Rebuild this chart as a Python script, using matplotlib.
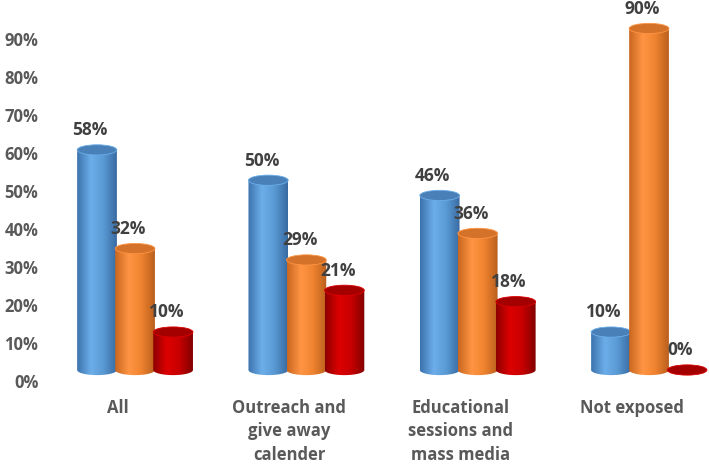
import numpy as np
import matplotlib.pyplot as plt
from matplotlib.colors import LinearSegmentedColormap
from matplotlib.patches import Ellipse, PathPatch
from matplotlib.path import Path

categories = ["All", "Outreach and\ngive away\ncalender",
              "Educational\nsessions and\nmass media", "Not exposed"]
series_a = [58, 50, 46, 10]   # blue
series_b = [32, 29, 36, 90]   # orange
series_c = [10, 21, 18, 0]    # red
yticks = [0, 10, 20, 30, 40, 50, 60, 70, 80, 90]

# body gradient stops (edge, highlight, mid, edge) and top-cap colour
styles = [
    (["#3B72AD", "#6CAEEA", "#5B9BD5", "#396BA2"], "#4A80B8"),
    (["#C9661F", "#FF9544", "#F08430", "#B95F1E"], "#D5722A"),
    (["#8E0000", "#DD0000", "#C80000", "#820000"], "#A40000"),
]

TXT = "#595959"
VAL = "#404040"
plt.rcParams["font.family"] = ["Open Sans", "DejaVu Sans"]

fig = plt.figure(figsize=(7.09, 4.66), dpi=100)
ax = fig.add_axes([0.06, 0.1824, 0.94, 0.8176])
ax.set_xlim(-0.44, 3.45)
ax.set_ylim(0, 100.4)

bw = 0.232        # bar width (category units)
step = 0.222      # shift between series
gshift = 0.10     # perspective shift of group vs. label
base = 2.9        # raised floor of the 3D chart
cap_h = 2.7       # ellipse height in data units


def cylinder(ax, xc, val, stops, cap, z):
    x0, x1 = xc - bw / 2, xc + bw / 2
    y0, y1 = base, base + val
    if val > 0:
        t = np.linspace(np.pi, 2 * np.pi, 40)
        arc = np.column_stack([xc + bw / 2 * np.cos(t), y0 + cap_h / 2 * np.sin(t)])
        verts = np.vstack([[x0, y1], arc, [x1, y1], [x0, y1]])
        clip = PathPatch(Path(verts), transform=ax.transData, facecolor="none",
                         edgecolor="none")
        ax.add_patch(clip)
        cmap = LinearSegmentedColormap.from_list(
            "c", list(zip([0, 0.35, 0.65, 1], stops)))
        grad = np.linspace(0, 1, 256).reshape(1, -1)
        im = ax.imshow(grad, cmap=cmap, aspect="auto",
                       extent=[x0, x1, y0 - cap_h, y1], zorder=z,
                       interpolation="bilinear")
        im.set_clip_path(clip)
    ax.add_patch(Ellipse((xc, y1), bw, cap_h, facecolor=cap,
                         edgecolor=stops[1], linewidth=0.6, zorder=z + 0.5))


for s, vals in enumerate([series_a, series_b, series_c]):
    stops, cap = styles[s]
    for i, v in enumerate(vals):
        xc = i + gshift + (s - 1) * step
        cylinder(ax, xc, v, stops, cap, 2 + s)
        ax.text(xc - 0.04, base + v + 5.2, f"{v}%", ha="center", va="center",
                fontsize=12.5, fontweight="bold", color=VAL, zorder=10)

ax.set_yticks(yticks)
ax.set_yticklabels([f"{t}%" for t in yticks], fontsize=12, fontweight="bold",
                   color=TXT)
ax.set_xticks(range(len(categories)))
ax.set_xticklabels(categories, fontsize=12, fontweight="bold", color=TXT,
                   linespacing=1.38)
ax.tick_params(axis="both", length=0)
ax.tick_params(axis="x", pad=13)
ax.tick_params(axis="y", pad=3)
for sp in ax.spines.values():
    sp.set_visible(False)

fig.savefig("out.png", dpi=100)
